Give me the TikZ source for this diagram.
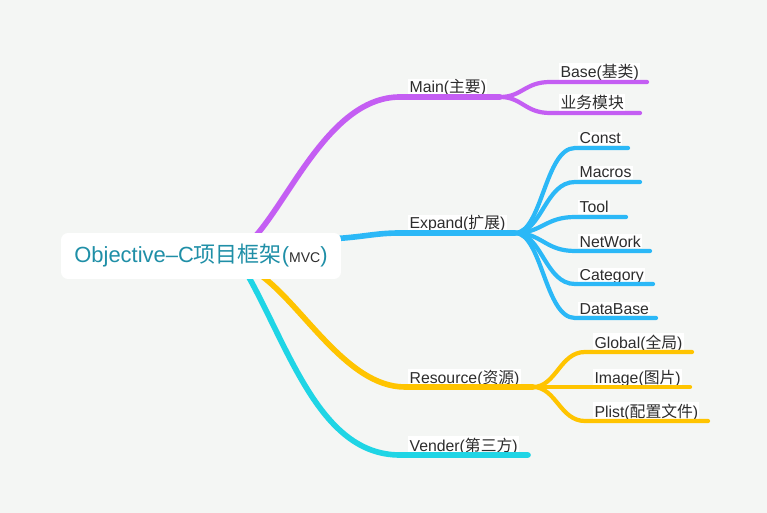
\documentclass[tikz,border=0pt]{standalone}
\usepackage{fontspec}
\setmainfont{Liberation Sans}
\newfontfamily\cjkfont{Noto Sans CJK SC}
\newcommand{\zh}[1]{{\cjkfont #1}}
\usetikzlibrary{positioning}
\definecolor{bgc}{HTML}{F4F6F4}
\definecolor{mainc}{HTML}{C45EF3}
\definecolor{expandc}{HTML}{2BB8F7}
\definecolor{resc}{HTML}{FFC400}
\definecolor{venderc}{HTML}{1FD5E5}
\definecolor{rootc}{HTML}{1F8FA7}
\definecolor{txtc}{HTML}{2D2D2D}
\tikzset{
  branch/.style={line width=3.2pt,line cap=round},
  twig/.style={line width=2.4pt,line cap=round},
  lbl/.style={anchor=base west,fill=white,text=txtc,inner sep=0.7pt,font=\fontsize{9}{10}\selectfont},
  rootbox/.style={fill=white,rounded corners=4pt,minimum width=5.6cm,minimum height=0.92cm,text=rootc,inner sep=0pt,font=\fontsize{12.5}{15}\selectfont}
}
\begin{document}
\begin{tikzpicture}[x=0.02cm,y=-0.02cm]
\fill[bgc] (0,0) rectangle (767,513);

\coordinate (m0) at (252,240);
\coordinate (mainL) at (400,97);
\coordinate (mfork) at (500,97);
\coordinate (baseL) at (550,82);
\coordinate (baseR) at (647,82);
\coordinate (yewuL) at (550,113);
\coordinate (yewuR) at (640,113);

\coordinate (e0) at (330,239);
\coordinate (expandL) at (400,233);
\coordinate (efork) at (515,233);
\coordinate (constL) at (575,148);
\coordinate (constR) at (628,148);
\coordinate (macrosL) at (575,182);
\coordinate (macrosR) at (640,182);
\coordinate (toolL) at (575,217);
\coordinate (toolR) at (626,217);
\coordinate (networkL) at (575,251);
\coordinate (networkR) at (650,251);
\coordinate (categoryL) at (575,284);
\coordinate (categoryR) at (653,284);
\coordinate (databaseL) at (575,318);
\coordinate (databaseR) at (656,318);

\coordinate (r0) at (256,272);
\coordinate (resourceL) at (405,387);
\coordinate (rfork) at (533,387);
\coordinate (globalL) at (585,352);
\coordinate (globalR) at (692,352);
\coordinate (imageR) at (690,387);
\coordinate (plistL) at (585,421);
\coordinate (plistR) at (708,421);

\coordinate (v0) at (246,272);
\coordinate (venderL) at (400,455);
\coordinate (venderR) at (528,455);

\node[lbl] (main) at (408,93) {Main(\zh{主要})};
\node[lbl] (base) at (559,78) {Base(\zh{基类})};
\node[lbl] (yewu) at (559,109) {\zh{业务模块}};
\node[lbl] (expand) at (408,229) {Expand(\zh{扩展})};
\node[lbl] (const) at (578,144) {Const};
\node[lbl] (macros) at (578,178) {Macros};
\node[lbl] (tool) at (578,213) {Tool};
\node[lbl] (network) at (578,247) {NetWork};
\node[lbl] (category) at (578,280) {Category};
\node[lbl] (database) at (578,314) {DataBase};
\node[lbl] (resource) at (408,383) {Resource(\zh{资源})};
\node[lbl] (global) at (593,348) {Global(\zh{全局})};
\node[lbl] (image) at (593,383) {Image(\zh{图片})};
\node[lbl] (plist) at (593,417) {Plist(\zh{配置文件})};
\node[lbl] (vender) at (408,451) {Vender(\zh{第三方})};

\draw[branch,mainc] (m0) .. controls (290,200) and (330,97) .. (mainL) -- (mfork);
\draw[twig,mainc] (mfork) .. controls (522,97) and (525,82) .. (baseL) -- (baseR);
\draw[twig,mainc] (mfork) .. controls (522,97) and (525,113) .. (yewuL) -- (yewuR);

\draw[branch,expandc] (e0) .. controls (365,237) and (375,233) .. (expandL) -- (efork);
\draw[twig,expandc] (efork) .. controls (542,233) and (545,148) .. (constL) -- (constR);
\draw[twig,expandc] (efork) .. controls (542,233) and (545,182) .. (macrosL) -- (macrosR);
\draw[twig,expandc] (efork) .. controls (542,233) and (545,217) .. (toolL) -- (toolR);
\draw[twig,expandc] (efork) .. controls (542,233) and (545,251) .. (networkL) -- (networkR);
\draw[twig,expandc] (efork) .. controls (542,233) and (545,284) .. (categoryL) -- (categoryR);
\draw[twig,expandc] (efork) .. controls (542,233) and (545,318) .. (databaseL) -- (databaseR);

\draw[branch,resc] (r0) .. controls (300,300) and (345,387) .. (resourceL) -- (rfork);
\draw[twig,resc] (rfork) .. controls (556,387) and (560,352) .. (globalL) -- (globalR);
\draw[twig,resc] (rfork) -- (imageR);
\draw[twig,resc] (rfork) .. controls (556,387) and (560,421) .. (plistL) -- (plistR);

\draw[branch,venderc] (v0) .. controls (290,350) and (320,455) .. (venderL) -- (venderR);

\node[rootbox] (root) at (201,256) {Objective–C\zh{项目框架}({\color{txtc}\fontsize{8}{9}\selectfont MVC})};
\end{tikzpicture}
\end{document}
